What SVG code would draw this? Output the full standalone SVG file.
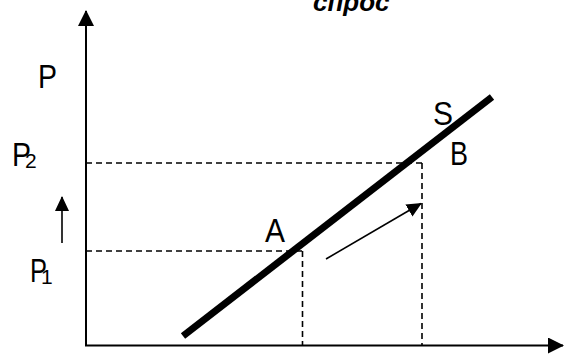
<svg xmlns="http://www.w3.org/2000/svg" width="564" height="354" viewBox="0 0 564 354">
<style>
.lbl{font-family:"Liberation Sans",Arial,sans-serif;fill:#000}
.big{font-size:34px}
.sub{font-size:21px}
.axis{stroke:#000;stroke-width:2;fill:none}
.dash{stroke:#000;stroke-width:1.6;stroke-dasharray:6 4;fill:none}
.thin{stroke:#000;stroke-width:1.6;fill:none}
</style>
<defs>
<marker id="ah" viewBox="0 0 16 16" refX="15" refY="8" markerWidth="16" markerHeight="16" markerUnits="userSpaceOnUse" orient="auto">
<path d="M0,0 L16,8 L0,16 Z" fill="#000"/>
</marker>
<marker id="ahs" viewBox="0 0 15 14" refX="14" refY="7" markerWidth="15" markerHeight="14" markerUnits="userSpaceOnUse" orient="auto">
<path d="M0,0 L15,7 L0,14 Z" fill="#000"/>
</marker>
</defs>
<rect width="564" height="354" fill="#fff"/>
<g id="connectors">
<line class="axis" x1="86" y1="345.5" x2="86" y2="11" marker-end="url(#ah)"/>
<line class="axis" x1="85" y1="345.5" x2="563" y2="345.5" marker-end="url(#ah)"/>
<line class="dash" x1="86" y1="163" x2="422" y2="163"/>
<line class="dash" x1="422" y1="163" x2="422" y2="345"/>
<line class="dash" x1="86" y1="251" x2="302" y2="251"/>
<line class="dash" x1="302.5" y1="251" x2="302.5" y2="345"/>
<line class="thin" x1="326" y1="259" x2="421" y2="203.5" marker-end="url(#ahs)"/>
<line class="thin" x1="62" y1="243" x2="62" y2="197" marker-end="url(#ahs)"/>
</g>
<g id="supply">
<line x1="183" y1="336" x2="492" y2="97" stroke="#000" stroke-width="7"/>
</g>
<g id="title"><text class="lbl" x="313" y="11" font-size="26" font-weight="bold" font-style="italic">спрос</text></g>
<g id="label-P"><text class="lbl big" x="38" y="88" textLength="19" lengthAdjust="spacingAndGlyphs">P</text></g>
<g id="label-P2"><text class="lbl big" x="12" y="166" textLength="19" lengthAdjust="spacingAndGlyphs">P</text><text class="lbl sub" x="25" y="168">2</text></g>
<g id="label-P1"><text class="lbl big" x="30" y="282" textLength="17" lengthAdjust="spacingAndGlyphs">P</text><text class="lbl sub" x="41" y="284">1</text></g>
<g id="label-A"><text class="lbl big" x="265" y="242" textLength="20" lengthAdjust="spacingAndGlyphs">A</text></g>
<g id="label-S"><text class="lbl big" x="433" y="125" textLength="20" lengthAdjust="spacingAndGlyphs">S</text></g>
<g id="label-B"><text class="lbl big" x="450" y="165" textLength="18" lengthAdjust="spacingAndGlyphs">B</text></g>
</svg>
